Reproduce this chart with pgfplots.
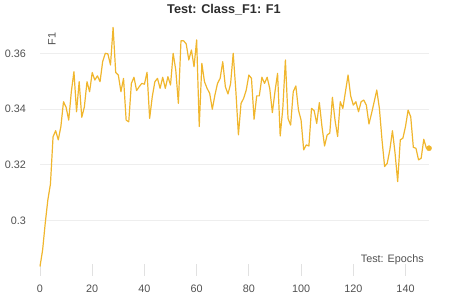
\documentclass[border=0pt]{standalone}
\usepackage{pgfplots}
\pgfplotsset{compat=1.18}
\usepackage{pgfplotstable}
\usepackage{fontspec}
\setmainfont{Liberation Sans}
\definecolor{linecol}{RGB}{240,182,45}
\definecolor{gridcol}{RGB}{238,238,238}
\definecolor{tickcol}{RGB}{225,225,225}
\definecolor{labcol}{RGB}{80,80,80}
\definecolor{titlecol}{RGB}{45,45,45}
\pgfplotstableread{
ep f1
0 0.2834
1 0.2893
2 0.2989
3 0.3073
4 0.3130
5 0.3300
6 0.3322
7 0.3289
8 0.3337
9 0.3426
10 0.3406
11 0.3360
12 0.3462
13 0.3534
14 0.3390
15 0.3498
16 0.3370
17 0.3408
18 0.3498
19 0.3462
20 0.3531
21 0.3504
22 0.3519
23 0.3498
24 0.3570
25 0.3600
26 0.3598
27 0.3558
28 0.3693
29 0.3531
30 0.3522
31 0.3462
32 0.3510
33 0.3360
34 0.3354
35 0.3492
36 0.3514
37 0.3466
38 0.3480
39 0.3492
40 0.3489
41 0.3532
42 0.3366
43 0.3444
44 0.3498
45 0.3510
46 0.3474
47 0.3514
48 0.3474
49 0.3516
50 0.3486
51 0.3600
52 0.3540
53 0.3420
54 0.3645
55 0.3645
56 0.3634
57 0.3576
58 0.3612
59 0.3552
60 0.3648
61 0.3337
62 0.3564
63 0.3498
64 0.3474
65 0.3456
66 0.3399
67 0.3450
68 0.3492
69 0.3510
70 0.3570
71 0.3480
72 0.3454
73 0.3490
74 0.3600
75 0.3468
76 0.3307
77 0.3420
78 0.3438
79 0.3468
80 0.3522
81 0.3510
82 0.3363
83 0.3447
84 0.3447
85 0.3514
86 0.3492
87 0.3514
88 0.3474
89 0.3387
90 0.3462
91 0.3528
92 0.3303
93 0.3402
94 0.3576
95 0.3366
96 0.3342
97 0.3462
98 0.3483
99 0.3396
100 0.3360
101 0.3253
102 0.3271
103 0.3267
104 0.3402
105 0.3394
106 0.3348
107 0.3423
108 0.3337
109 0.3267
110 0.3307
111 0.3313
112 0.3442
113 0.3360
114 0.3301
115 0.3426
116 0.3402
117 0.3462
118 0.3522
119 0.3447
120 0.3414
121 0.3426
122 0.3390
123 0.3426
124 0.3432
125 0.3414
126 0.3346
127 0.3384
128 0.3426
129 0.3468
130 0.3402
131 0.3289
132 0.3193
133 0.3205
134 0.3253
135 0.3322
136 0.3241
137 0.3139
138 0.3289
139 0.3295
140 0.3337
141 0.3396
142 0.3372
143 0.3262
144 0.3259
145 0.3217
146 0.3223
147 0.3291
148 0.3259
149 0.3259
}\datatable
\pgfplotstableread{
ep f1
149 0.3259
}\lastpoint
\begin{document}
\begin{tikzpicture}
\useasboundingbox (0,0) rectangle (450pt,300pt);
\begin{axis}[
  at={(40pt,30pt)}, anchor=south west,
  scale only axis, width=389pt, height=250pt,
  xmin=0, xmax=149, ymin=0.28214, ymax=0.37197,
  enlargelimits=false, clip=false,
  axis line style={draw=none},
  xtick={0,20,40,60,80,100,120,140},
  xticklabels={0,20,40,60,80,100,120,140},
  ytick={0.30,0.32,0.34,0.36},
  yticklabels={0.3,0.32,0.34,0.36},
  xtick pos=lower, ytick pos=left,
  tick align=center,
  major tick length=12pt,
  xtick style={draw=tickcol, line width=0.8pt},
  ytick style={draw=none},
  ymajorgrids, major grid style={draw=gridcol, line width=0.8pt},
  ticklabel style={font=\fontsize{10.8}{13}\selectfont, text=labcol},
  xticklabel style={anchor=base, yshift=-16pt, inner sep=0pt},
  yticklabel style={anchor=east, xshift=-8pt, inner sep=0pt},
  ylabel={F1},
  ylabel style={at={(axis description cs:0.0308,0.924)}, anchor=center, font=\fontsize{10.8}{13}\selectfont, text=labcol, inner sep=0pt},
  xlabel={Test: Epochs},
  xlabel style={at={(axis description cs:0.987,0.04)}, anchor=east, font=\fontsize{10.8}{13}\selectfont, text=labcol, inner sep=0pt},
  title={Test: Class\_F1: F1},
  title style={at={(axis description cs:0.473,1)}, anchor=base, yshift=0pt, inner sep=0pt, font=\fontsize{12.7}{15}\selectfont\bfseries, text=titlecol},
]
\addplot[color=linecol, line width=1.2pt, line join=round] table[x=ep, y=f1] {\datatable};
\addplot[color=linecol, only marks, mark=*, mark size=2.6pt] table[x=ep, y=f1] {\lastpoint};
\end{axis}
\end{tikzpicture}
\end{document}
